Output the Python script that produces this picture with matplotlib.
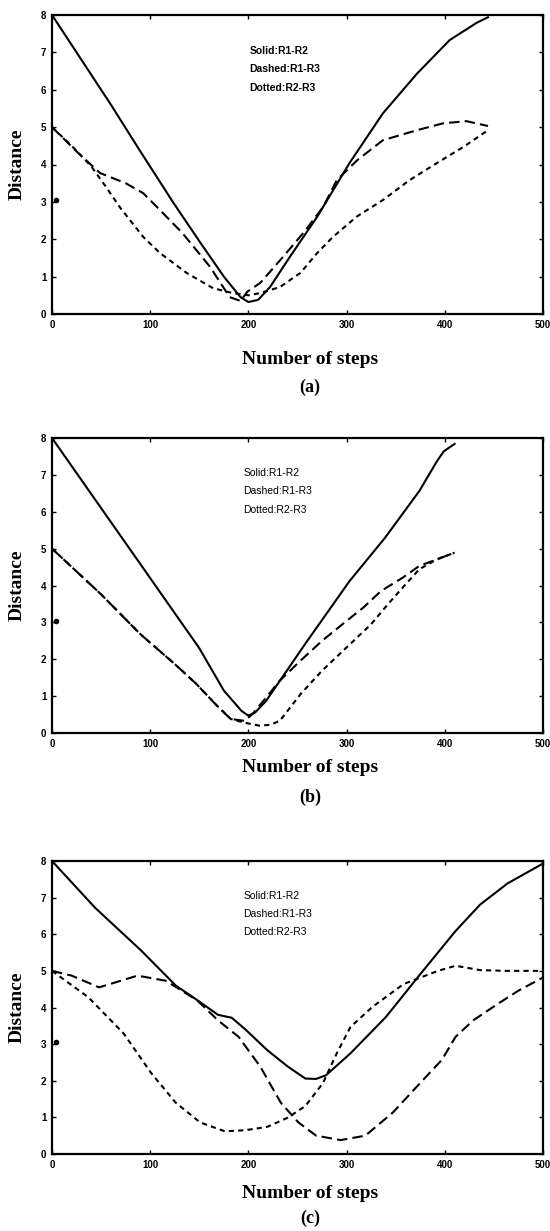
import matplotlib
matplotlib.use("Agg")
import matplotlib.pyplot as plt

# panel (a)
a_solid_x = [0, 30, 60, 90, 123, 150, 175, 192, 200, 210, 222, 242, 270, 303, 337, 372, 405, 433, 444]
a_solid_y = [8.0, 6.8, 5.6, 4.35, 3.0, 1.95, 1.0, 0.45, 0.32, 0.38, 0.72, 1.52, 2.6, 4.04, 5.37, 6.44, 7.33, 7.8, 7.94]
a_dash_x = [0, 25, 49, 75, 93, 107, 133, 161, 181, 192, 199, 212, 235, 256, 276, 290, 311, 337, 372, 398, 422, 444]
a_dash_y = [5.0, 4.35, 3.77, 3.5, 3.23, 2.86, 2.16, 1.26, 0.45, 0.35, 0.6, 0.83, 1.52, 2.17, 2.86, 3.58, 4.12, 4.65, 4.92, 5.1, 5.16, 5.03]
a_dot_x = [0, 20, 40, 55, 69, 93, 110, 137, 164, 184, 200, 212, 232, 253, 270, 286, 310, 337, 364, 392, 419, 444]
a_dot_y = [5.0, 4.5, 3.95, 3.4, 2.86, 2.06, 1.63, 1.1, 0.69, 0.56, 0.5, 0.56, 0.72, 1.1, 1.63, 2.06, 2.6, 3.05, 3.58, 4.04, 4.47, 4.92]

# panel (b)
b_solid_x = [0, 50, 100, 150, 175, 193, 200, 207, 218, 260, 303, 339, 374, 392, 399, 410]
b_solid_y = [8.0, 6.1, 4.2, 2.3, 1.15, 0.6, 0.47, 0.56, 0.87, 2.5, 4.12, 5.29, 6.56, 7.37, 7.64, 7.84]
b_dash_x = [0, 50, 90, 125, 147, 168, 182, 196, 204, 218, 232, 253, 275, 300, 317, 335, 357, 374, 396, 410]
b_dash_y = [5.0, 3.76, 2.68, 1.87, 1.33, 0.74, 0.38, 0.33, 0.51, 0.96, 1.42, 1.96, 2.5, 3.04, 3.4, 3.85, 4.21, 4.53, 4.75, 4.89]
b_dot_x = [0, 50, 90, 125, 147, 168, 182, 196, 211, 222, 232, 253, 275, 300, 325, 342, 360, 374, 392, 410]
b_dot_y = [5.0, 3.76, 2.68, 1.87, 1.33, 0.74, 0.38, 0.28, 0.2, 0.22, 0.33, 1.05, 1.69, 2.32, 2.95, 3.49, 4.03, 4.44, 4.71, 4.89]

# panel (c)
c_solid_x = [0, 44, 91, 126, 148, 169, 183, 197, 219, 240, 258, 269, 279, 304, 340, 375, 411, 436, 464, 500]
c_solid_y = [8.0, 6.72, 5.55, 4.6, 4.2, 3.8, 3.72, 3.4, 2.84, 2.39, 2.06, 2.05, 2.15, 2.75, 3.74, 4.91, 6.09, 6.81, 7.39, 7.93]
c_dash_x = [0, 20, 48, 87, 116, 148, 169, 190, 212, 233, 251, 269, 294, 319, 347, 375, 397, 411, 429, 454, 475, 500]
c_dash_y = [5.0, 4.87, 4.55, 4.87, 4.73, 4.19, 3.65, 3.2, 2.39, 1.4, 0.86, 0.5, 0.38, 0.5, 1.13, 1.94, 2.57, 3.2, 3.65, 4.1, 4.46, 4.82]
c_dot_x = [0, 37, 73, 101, 126, 151, 176, 197, 219, 240, 258, 276, 290, 304, 326, 358, 393, 411, 436, 464, 500]
c_dot_y = [5.0, 4.28, 3.29, 2.21, 1.4, 0.86, 0.62, 0.65, 0.74, 0.99, 1.31, 1.94, 2.75, 3.47, 4.01, 4.64, 5.0, 5.14, 5.02, 5.0, 5.0]

panels = [
    ((a_solid_x, a_solid_y), (a_dash_x, a_dash_y), (a_dot_x, a_dot_y), "(a)"),
    ((b_solid_x, b_solid_y), (b_dash_x, b_dash_y), (b_dot_x, b_dot_y), "(b)"),
    ((c_solid_x, c_solid_y), (c_dash_x, c_dash_y), (c_dot_x, c_dot_y), "(c)"),
]
legend_lines = ["Solid:R1-R2", "Dashed:R1-R3", "Dotted:R2-R3"]
xticks = [0, 100, 200, 300, 400, 500]
yticks = [0, 1, 2, 3, 4, 5, 6, 7, 8]

W, H = 550, 1231
fig = plt.figure(figsize=(W / 100, H / 100), dpi=100)

# axes boxes in pixels: top, bottom
boxes = [(15, 314), (438, 733), (861, 1154)]
xlab_y = [360, 768, 1193]
tag_y = [387, 797, 1218]
legend_x = [201, 195, 195]

serif = ["Liberation Serif", "DejaVu Serif"]
sans = ["Liberation Sans", "DejaVu Sans"]

for i, (sol, das, dot, tag) in enumerate(panels):
    top, bot = boxes[i]
    ax = fig.add_axes([52 / W, 1 - bot / H, 491 / W, (bot - top) / H])
    ax.plot(sol[0], sol[1], color="black", lw=1.5)
    ax.plot(das[0], das[1], color="black", lw=1.5, dashes=(5, 2.5))
    ax.plot(dot[0], dot[1], color="black", lw=1.5, dashes=(2.5, 2))
    ax.plot([4], [3.05], "o", color="black", ms=3)
    ax.set_xlim(0, 500)
    ax.set_ylim(0, 8)
    ax.set_xticks(xticks)
    ax.set_yticks(yticks)
    ax.tick_params(direction="in", length=3, width=1, top=True, right=True,
                   labelsize=7, pad=4)
    for lab in ax.get_xticklabels() + ax.get_yticklabels():
        lab.set_fontweight("bold")
        lab.set_family(sans)
    for s in ax.spines.values():
        s.set_linewidth(1.6)
    for k, t in enumerate(legend_lines):
        ax.text(legend_x[i], 7.05 - 0.5 * k, t, fontsize=7.5, family=sans,
                fontweight="bold" if i == 0 else "normal", va="center",
                fontstretch="condensed")
    fig.text(17 / W, 1 - (top + bot) / 2 / H, "Distance", rotation=90,
             ha="center", va="center", fontsize=14, fontweight="bold", family=serif)
    fig.text(310 / W, 1 - xlab_y[i] / H, "Number of steps", ha="center",
             va="center", fontsize=14, fontweight="bold", family=serif)
    fig.text(310 / W, 1 - tag_y[i] / H, tag, ha="center", va="center",
             fontsize=13, fontweight="bold", family=serif)

fig.savefig("out.png", dpi=100)
